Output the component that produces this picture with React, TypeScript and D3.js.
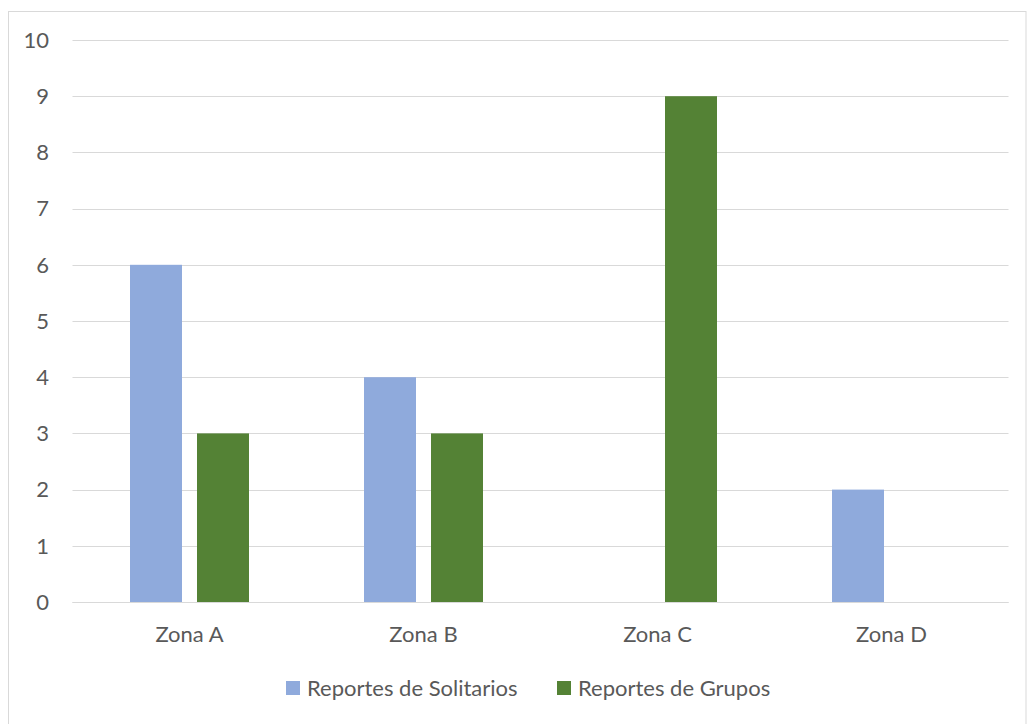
import React from "react";
import * as d3 from "d3";

const categories = ["Zona A", "Zona B", "Zona C", "Zona D"];
const seriesNames = ["Reportes de Solitarios", "Reportes de Grupos"];
const solitarios = [6, 4, 0, 2];
const grupos = [3, 3, 9, 0];
const yTicks = [0, 1, 2, 3, 4, 5, 6, 7, 8, 9, 10];
const colors = ["#8FAADC", "#548235"];

const W = 1027;
const H = 724;
const plot = { left: 72.5, right: 1008.5, top: 40, bottom: 602 };
const font = "Lato, 'Open Sans', sans-serif";
const textColor = "#595959";
const fs = 22;

const App = () => {
  const x0 = d3.scaleBand<string>().domain(categories).range([plot.left, plot.right]).paddingInner(0).paddingOuter(0);
  const groupW = 119;
  const x1 = d3
    .scaleBand<string>()
    .domain(seriesNames)
    .range([(x0.bandwidth() - groupW) / 2, (x0.bandwidth() + groupW) / 2])
    .paddingInner(0.2239)
    .paddingOuter(0);
  const y = d3.scaleLinear().domain([0, 10]).range([plot.bottom, plot.top]);
  const values = [solitarios, grupos];

  return (
    <svg width={W} height={H} style={{ position: "absolute", left: 0, top: 0, background: "#fff" }} fontFamily={font}>
      <rect x={8.5} y={11.5} width={1017.5} height={H + 10} fill="#fff" stroke="#d9d9d9" strokeWidth={1} />
      {yTicks.map((t) => (
        <g key={t}>
          <line x1={plot.left} x2={plot.right} y1={Math.round(y(t)) + 0.5} y2={Math.round(y(t)) + 0.5} stroke="#d9d9d9" strokeWidth={1} />
          <text x={49} y={y(t)} dy="0.35em" textAnchor="end" fontSize={fs} fill={textColor}>
            {t}
          </text>
        </g>
      ))}
      {categories.map((c, i) => (
        <g key={c} transform={`translate(${x0(c)},0)`}>
          {seriesNames.map((s, j) => {
            const v = values[j][i];
            if (!v) return null;
            return <rect key={s} x={x1(s)} y={y(v)} width={x1.bandwidth()} height={y(0) - y(v)} fill={colors[j]} />;
          })}
          <text x={x0.bandwidth() / 2} y={634} dy="0.35em" textAnchor="middle" fontSize={fs} fill={textColor}>
            {c}
          </text>
        </g>
      ))}
      <line x1={plot.left} x2={plot.right} y1={plot.bottom + 0.5} y2={plot.bottom + 0.5} stroke="#d9d9d9" />
      {seriesNames.map((s, j) => {
        const lx = [286, 557][j];
        return (
          <g key={s}>
            <rect x={lx} y={681} width={14} height={14} fill={colors[j]} />
            <text x={lx + 21} y={688} dy="0.35em" fontSize={fs} fill={textColor}>
              {s}
            </text>
          </g>
        );
      })}
    </svg>
  );
};

export default App;
